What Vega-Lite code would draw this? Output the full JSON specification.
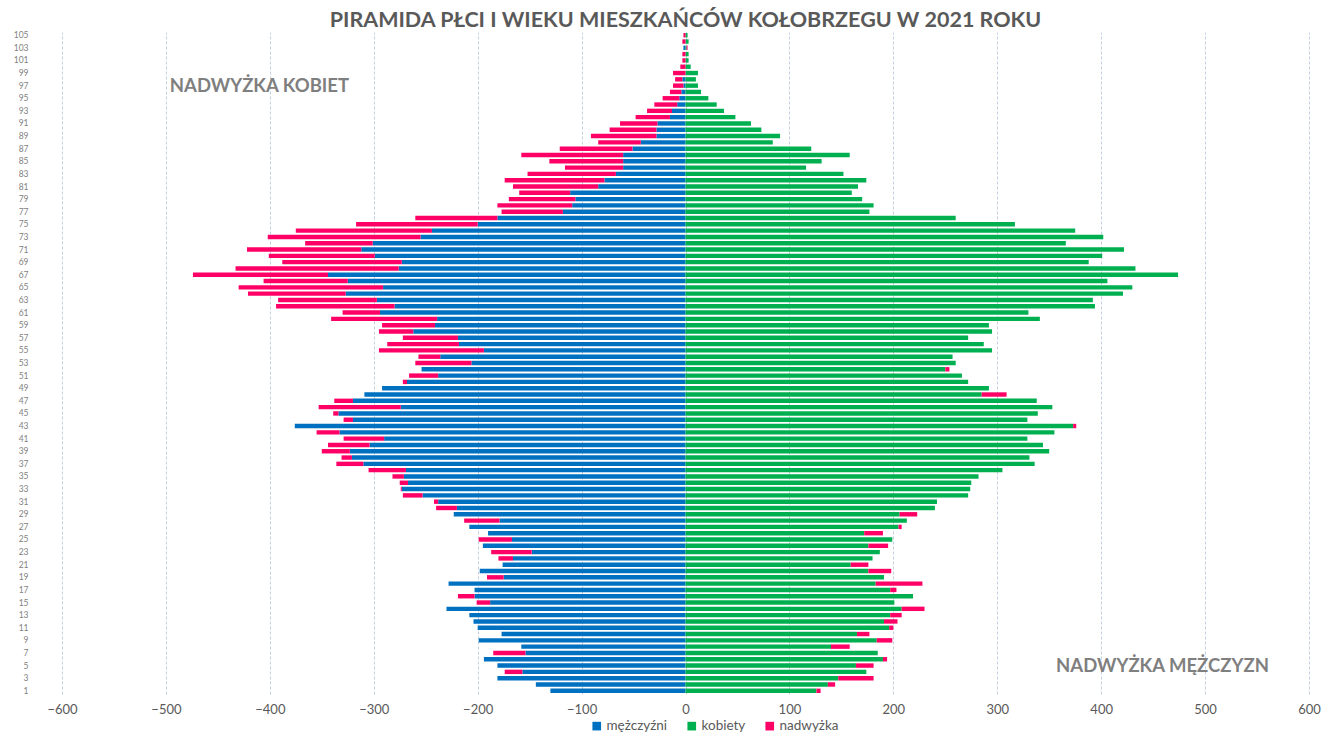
{
  "$schema": "https://vega.github.io/schema/vega-lite/v6.json",
  "autosize": {"type": "none"},
  "width": 1247,
  "height": 662,
  "padding": {"left": 62, "top": 32, "right": 14, "bottom": 38},
  "background": "white",
  "title": {
    "text": "PIRAMIDA PŁCI I WIEKU MIESZKAŃCÓW KOŁOBRZEGU W 2021 ROKU",
    "font": "Lato",
    "fontSize": 21.5,
    "fontWeight": "bold",
    "color": "#595959",
    "anchor": "middle",
    "offset": -1
  },
  "datasets": {
    "pop": [
      {"age": 105, "mężczyźni": 0, "kobiety": 2, "nadwyżka": -2},
      {"age": 104, "mężczyźni": 0, "kobiety": 3, "nadwyżka": -3},
      {"age": 103, "mężczyźni": -2, "kobiety": 1, "nadwyżka": 1},
      {"age": 102, "mężczyźni": 0, "kobiety": 3, "nadwyżka": -3},
      {"age": 101, "mężczyźni": 0, "kobiety": 3, "nadwyżka": -3},
      {"age": 100, "mężczyźni": 0, "kobiety": 5, "nadwyżka": -5},
      {"age": 99, "mężczyźni": 0, "kobiety": 12, "nadwyżka": -12},
      {"age": 98, "mężczyźni": -3, "kobiety": 10, "nadwyżka": -7},
      {"age": 97, "mężczyźni": -2, "kobiety": 12, "nadwyżka": -10},
      {"age": 96, "mężczyźni": -4, "kobiety": 15, "nadwyżka": -11},
      {"age": 95, "mężczyźni": -6, "kobiety": 22, "nadwyżka": -16},
      {"age": 94, "mężczyźni": -8, "kobiety": 30, "nadwyżka": -22},
      {"age": 93, "mężczyźni": -13, "kobiety": 37, "nadwyżka": -24},
      {"age": 92, "mężczyźni": -15, "kobiety": 48, "nadwyżka": -33},
      {"age": 91, "mężczyźni": -27, "kobiety": 63, "nadwyżka": -36},
      {"age": 90, "mężczyźni": -28, "kobiety": 73, "nadwyżka": -45},
      {"age": 89, "mężczyźni": -28, "kobiety": 91, "nadwyżka": -63},
      {"age": 88, "mężczyźni": -43, "kobiety": 84, "nadwyżka": -41},
      {"age": 87, "mężczyźni": -51, "kobiety": 121, "nadwyżka": -70},
      {"age": 86, "mężczyźni": -60, "kobiety": 158, "nadwyżka": -98},
      {"age": 85, "mężczyźni": -60, "kobiety": 131, "nadwyżka": -71},
      {"age": 84, "mężczyźni": -60, "kobiety": 116, "nadwyżka": -56},
      {"age": 83, "mężczyźni": -67, "kobiety": 152, "nadwyżka": -85},
      {"age": 82, "mężczyźni": -78, "kobiety": 174, "nadwyżka": -96},
      {"age": 81, "mężczyźni": -84, "kobiety": 166, "nadwyżka": -82},
      {"age": 80, "mężczyźni": -111, "kobiety": 160, "nadwyżka": -49},
      {"age": 79, "mężczyźni": -106, "kobiety": 170, "nadwyżka": -64},
      {"age": 78, "mężczyźni": -109, "kobiety": 181, "nadwyżka": -72},
      {"age": 77, "mężczyźni": -118, "kobiety": 177, "nadwyżka": -59},
      {"age": 76, "mężczyźni": -181, "kobiety": 260, "nadwyżka": -79},
      {"age": 75, "mężczyźni": -200, "kobiety": 317, "nadwyżka": -117},
      {"age": 74, "mężczyźni": -244, "kobiety": 375, "nadwyżka": -131},
      {"age": 73, "mężczyźni": -255, "kobiety": 402, "nadwyżka": -147},
      {"age": 72, "mężczyźni": -301, "kobiety": 366, "nadwyżka": -65},
      {"age": 71, "mężczyźni": -312, "kobiety": 422, "nadwyżka": -110},
      {"age": 70, "mężczyźni": -299, "kobiety": 401, "nadwyżka": -102},
      {"age": 69, "mężczyźni": -273, "kobiety": 388, "nadwyżka": -115},
      {"age": 68, "mężczyźni": -276, "kobiety": 433, "nadwyżka": -157},
      {"age": 67, "mężczyźni": -344, "kobiety": 474, "nadwyżka": -130},
      {"age": 66, "mężczyźni": -325, "kobiety": 406, "nadwyżka": -81},
      {"age": 65, "mężczyźni": -291, "kobiety": 430, "nadwyżka": -139},
      {"age": 64, "mężczyźni": -327, "kobiety": 421, "nadwyżka": -94},
      {"age": 63, "mężczyźni": -297, "kobiety": 392, "nadwyżka": -95},
      {"age": 62, "mężczyźni": -280, "kobiety": 394, "nadwyżka": -114},
      {"age": 61, "mężczyźni": -294, "kobiety": 330, "nadwyżka": -36},
      {"age": 60, "mężczyźni": -239, "kobiety": 341, "nadwyżka": -102},
      {"age": 59, "mężczyźni": -241, "kobiety": 292, "nadwyżka": -51},
      {"age": 58, "mężczyźni": -262, "kobiety": 295, "nadwyżka": -33},
      {"age": 57, "mężczyźni": -219, "kobiety": 272, "nadwyżka": -53},
      {"age": 56, "mężczyźni": -218, "kobiety": 287, "nadwyżka": -69},
      {"age": 55, "mężczyźni": -194, "kobiety": 295, "nadwyżka": -101},
      {"age": 54, "mężczyźni": -236, "kobiety": 257, "nadwyżka": -21},
      {"age": 53, "mężczyźni": -206, "kobiety": 260, "nadwyżka": -54},
      {"age": 52, "mężczyźni": -254, "kobiety": 250, "nadwyżka": 4},
      {"age": 51, "mężczyźni": -238, "kobiety": 266, "nadwyżka": -28},
      {"age": 50, "mężczyźni": -268, "kobiety": 272, "nadwyżka": -4},
      {"age": 49, "mężczyźni": -292, "kobiety": 292, "nadwyżka": 0},
      {"age": 48, "mężczyźni": -309, "kobiety": 285, "nadwyżka": 24},
      {"age": 47, "mężczyźni": -320, "kobiety": 338, "nadwyżka": -18},
      {"age": 46, "mężczyźni": -274, "kobiety": 353, "nadwyżka": -79},
      {"age": 45, "mężczyźni": -334, "kobiety": 339, "nadwyżka": -5},
      {"age": 44, "mężczyźni": -320, "kobiety": 329, "nadwyżka": -9},
      {"age": 43, "mężczyźni": -376, "kobiety": 373, "nadwyżka": 3},
      {"age": 42, "mężczyźni": -333, "kobiety": 355, "nadwyżka": -22},
      {"age": 41, "mężczyźni": -290, "kobiety": 329, "nadwyżka": -39},
      {"age": 40, "mężczyźni": -304, "kobiety": 344, "nadwyżka": -40},
      {"age": 39, "mężczyźni": -323, "kobiety": 350, "nadwyżka": -27},
      {"age": 38, "mężczyźni": -321, "kobiety": 331, "nadwyżka": -10},
      {"age": 37, "mężczyźni": -310, "kobiety": 336, "nadwyżka": -26},
      {"age": 36, "mężczyźni": -269, "kobiety": 305, "nadwyżka": -36},
      {"age": 35, "mężczyźni": -271, "kobiety": 282, "nadwyżka": -11},
      {"age": 34, "mężczyźni": -267, "kobiety": 275, "nadwyżka": -8},
      {"age": 33, "mężczyźni": -273, "kobiety": 274, "nadwyżka": -1},
      {"age": 32, "mężczyźni": -253, "kobiety": 272, "nadwyżka": -19},
      {"age": 31, "mężczyźni": -238, "kobiety": 242, "nadwyżka": -4},
      {"age": 30, "mężczyźni": -220, "kobiety": 240, "nadwyżka": -20},
      {"age": 29, "mężczyźni": -223, "kobiety": 206, "nadwyżka": 17},
      {"age": 28, "mężczyźni": -179, "kobiety": 213, "nadwyżka": -34},
      {"age": 27, "mężczyźni": -208, "kobiety": 205, "nadwyżka": 3},
      {"age": 26, "mężczyźni": -190, "kobiety": 172, "nadwyżka": 18},
      {"age": 25, "mężczyźni": -167, "kobiety": 199, "nadwyżka": -32},
      {"age": 24, "mężczyźni": -195, "kobiety": 176, "nadwyżka": 19},
      {"age": 23, "mężczyźni": -148, "kobiety": 187, "nadwyżka": -39},
      {"age": 22, "mężczyźni": -166, "kobiety": 180, "nadwyżka": -14},
      {"age": 21, "mężczyźni": -176, "kobiety": 159, "nadwyżka": 17},
      {"age": 20, "mężczyźni": -198, "kobiety": 176, "nadwyżka": 22},
      {"age": 19, "mężczyźni": -175, "kobiety": 191, "nadwyżka": -16},
      {"age": 18, "mężczyźni": -228, "kobiety": 183, "nadwyżka": 45},
      {"age": 17, "mężczyźni": -203, "kobiety": 197, "nadwyżka": 6},
      {"age": 16, "mężczyźni": -203, "kobiety": 219, "nadwyżka": -16},
      {"age": 15, "mężczyźni": -188, "kobiety": 201, "nadwyżka": -13},
      {"age": 14, "mężczyźni": -230, "kobiety": 208, "nadwyżka": 22},
      {"age": 13, "mężczyźni": -208, "kobiety": 197, "nadwyżka": 11},
      {"age": 12, "mężczyźni": -204, "kobiety": 191, "nadwyżka": 13},
      {"age": 11, "mężczyźni": -200, "kobiety": 196, "nadwyżka": 4},
      {"age": 10, "mężczyźni": -177, "kobiety": 165, "nadwyżka": 12},
      {"age": 9, "mężczyźni": -199, "kobiety": 184, "nadwyżka": 15},
      {"age": 8, "mężczyźni": -158, "kobiety": 140, "nadwyżka": 18},
      {"age": 7, "mężczyźni": -154, "kobiety": 185, "nadwyżka": -31},
      {"age": 6, "mężczyźni": -194, "kobiety": 190, "nadwyżka": 4},
      {"age": 5, "mężczyźni": -181, "kobiety": 164, "nadwyżka": 17},
      {"age": 4, "mężczyźni": -157, "kobiety": 174, "nadwyżka": -17},
      {"age": 3, "mężczyźni": -181, "kobiety": 147, "nadwyżka": 34},
      {"age": 2, "mężczyźni": -144, "kobiety": 137, "nadwyżka": 7},
      {"age": 1, "mężczyźni": -130, "kobiety": 126, "nadwyżka": 4}
    ],
    "notes": [
      {"x": -410, "age": 97, "text": "NADWYŻKA KOBIET"},
      {"x": 459, "age": 5, "text": "NADWYŻKA MĘŻCZYZN"}
    ]
  },
  "encoding": {
    "y": {
      "field": "age",
      "type": "ordinal",
      "sort": "descending",
      "scale": {"paddingInner": 0.3, "paddingOuter": 0.16},
      "axis": {
        "title": null,
        "labelExpr": "datum.value % 2 == 1 ? datum.label : ''",
        "labelFontSize": 8.5,
        "labelFont": "Lato",
        "labelColor": "#7f7f7f",
        "labelPadding": 34,
        "ticks": false,
        "domain": false,
        "grid": false
      }
    }
  },
  "layer": [
    {
      "data": {"name": "pop"},
      "transform": [
        {"fold": ["mężczyźni", "kobiety", "nadwyżka"], "as": ["seria", "v"]}
      ],
      "mark": {"type": "bar"},
      "encoding": {
        "x": {
          "field": "v",
          "type": "quantitative",
          "stack": "zero",
          "scale": {"domain": [-600, 600]},
          "axis": {
            "title": null,
            "values": [-600, -500, -400, -300, -200, -100, 0, 100, 200, 300, 400, 500, 600],
            "grid": true,
            "gridDash": [3, 2],
            "gridColor": "#c3cfe0",
            "domain": false,
            "ticks": false,
            "labelFlush": false,
            "labelFont": "Lato",
            "labelFontSize": 13,
            "labelColor": "#595959",
            "labelPadding": 9
          }
        },
        "color": {
          "field": "seria",
          "type": "nominal",
          "scale": {
            "domain": ["mężczyźni", "kobiety", "nadwyżka"],
            "range": ["#0070c0", "#00b050", "#ff0066"]
          },
          "legend": {
            "title": null,
            "orient": "none",
            "direction": "horizontal",
            "legendX": 528,
            "legendY": 687,
            "symbolType": "square",
            "symbolSize": 75,
            "symbolStrokeWidth": 0,
            "labelFont": "Lato",
            "labelFontSize": 13.5,
            "labelColor": "#595959",
            "columnPadding": 17,
            "labelOffset": 3
          }
        },
        "order": {"field": "seria", "sort": "ascending"}
      }
    },
    {
      "data": {"name": "notes"},
      "mark": {
        "type": "text",
        "font": "Lato",
        "fontSize": 18.5,
        "fontWeight": "bold",
        "color": "#7f7f7f",
        "align": "center",
        "baseline": "middle"
      },
      "encoding": {
        "x": {"field": "x", "type": "quantitative"},
        "text": {"field": "text"}
      }
    }
  ],
  "config": {
    "view": {"stroke": null}
  }
}
